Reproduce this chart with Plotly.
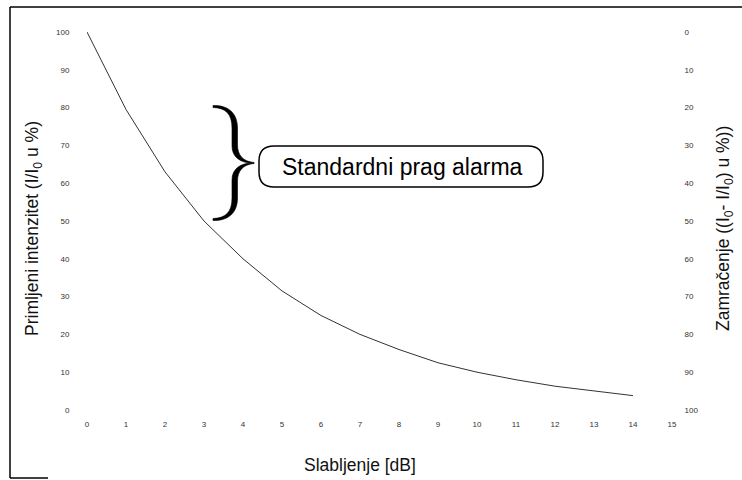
import plotly.graph_objects as go

# ---- data ----
slabljenje_db = [0, 1, 2, 3, 4, 5, 6, 7, 8, 9, 10, 11, 12, 13, 14]
intenzitet_pct = [100, 79.5, 63, 50, 40, 31.5, 25, 20, 16, 12.5, 10, 8, 6.3, 5, 3.8]
zamracenje_pct = [100 - v for v in intenzitet_pct]

x_ticks = list(range(0, 16))
y_ticks = list(range(0, 101, 10))

W, H = 742, 480
L, R, T, B = 87, 70, 32, 70
PW, PH = W - L - R, H - T - B


def px(xp):
    return (xp - L) / PW


def py(yp):
    return (H - B - yp) / PH


def build_path(cmds):
    s = []
    for c in cmds:
        if isinstance(c, str):
            if c:
                s.append(c)
        else:
            s.append(f"{px(c[0]):.5f},{py(c[1]):.5f}")
    return " ".join(s)


fig = go.Figure()
fig.add_trace(go.Scatter(
    x=slabljenje_db, y=intenzitet_pct, mode="lines",
    line=dict(color="#333333", width=1), hoverinfo="skip", showlegend=False,
))
fig.add_trace(go.Scatter(
    x=slabljenje_db, y=zamracenje_pct, mode="lines", yaxis="y2",
    line=dict(color="rgba(0,0,0,0)", width=1), hoverinfo="skip", showlegend=False,
))

tickfont = dict(family="Liberation Sans, Arial, sans-serif", size=8, color="#333333")
titlefont = dict(family="Liberation Sans, Arial, sans-serif", size=17.5, color="#111111")

shapes = []
# brace (filled, thick in the middle strokes)
tip_y = 163


def half(sign):
    def m(p):
        return (p[0], tip_y + sign * (p[1] - tip_y))
    pts = [
        "M", m((213, 105.5)), "C", m((228, 105)), "", m((237.5, 113)), "", m((237.5, 128)),
        "L", m((237.5, 145)), "C", m((237.5, 155)), "", m((243, 161.5)), "", m((254, 162.5)),
        "L", m((254, 163.5)), "C", m((240, 163)), "", m((232, 157)), "", m((232, 146)),
        "L", m((232, 128)), "C", m((232, 114)), "", m((226, 108)), "", m((213, 107.5)), "Z",
    ]
    return pts


brace = half(-1)[:0] + [(p if isinstance(p, str) else p) for p in half(1)]
# top half uses original orientation (sign=1 keeps y as given), bottom half mirrored
top = half(1)
bottom = [(p if isinstance(p, str) else (p[0], 2 * tip_y - p[1])) for p in half(1)]
shapes.append(dict(type="path", xref="paper", yref="paper",
                   path=build_path(top) + " " + build_path(bottom),
                   line=dict(color="black", width=0.6), fillcolor="black"))

# rounded box
bx0, bx1, by0, by1, r = 259, 543, 146, 187, 15
box = [
    "M", (bx0 + r, by0), "L", (bx1 - r, by0),
    "Q", (bx1, by0), "", (bx1, by0 + r),
    "L", (bx1, by1 - r),
    "Q", (bx1, by1), "", (bx1 - r, by1),
    "L", (bx0 + r, by1),
    "Q", (bx0, by1), "", (bx0, by1 - r),
    "L", (bx0, by0 + r),
    "Q", (bx0, by0), "", (bx0 + r, by0), "Z",
]
shapes.append(dict(type="path", xref="paper", yref="paper", path=build_path(box),
                   line=dict(color="black", width=1.5), fillcolor="white"))

# page frame (scan edges)
for (xa, ya, xb, yb) in [(10, 7, 10, 478), (10, 7, 742, 7), (10, 478, 48, 478)]:
    shapes.append(dict(type="line", xref="paper", yref="paper",
                       x0=px(xa), y0=py(ya), x1=px(xb), y1=py(yb),
                       line=dict(color="black", width=1.5)))

annotations = [
    dict(text="Standardni prag alarma", xref="paper", yref="paper",
         x=px((bx0 + bx1) / 2 + 1), y=py((by0 + by1) / 2), showarrow=False,
         xanchor="center", yanchor="middle",
         font=dict(family="Liberation Sans, Arial, sans-serif", size=23, color="black")),
    dict(text="Slabljenje [dB]", xref="paper", yref="paper",
         x=px(360), y=py(465), showarrow=False, xanchor="center", yanchor="middle",
         font=titlefont),
    dict(text="Primljeni intenzitet (I/I<sub>0</sub> u %)", xref="paper", yref="paper",
         x=px(33), y=py(229), showarrow=False, xanchor="center", yanchor="middle",
         textangle=-90, font=titlefont),
    dict(text="Zamračenje ((I<sub>0</sub>- I/I<sub>0</sub>) u %))", xref="paper", yref="paper",
         x=px(724), y=py(229), showarrow=False, xanchor="center", yanchor="middle",
         textangle=-90, font=titlefont),
]

fig.update_layout(
    width=W, height=H,
    margin=dict(l=L, r=R, t=T, b=B),
    paper_bgcolor="white", plot_bgcolor="white",
    showlegend=False,
    xaxis=dict(range=[0, 15], tickvals=x_ticks, ticktext=[str(v) for v in x_ticks],
               showgrid=False, zeroline=False, showline=False,
               ticks="outside", ticklen=6, tickcolor="rgba(0,0,0,0)", tickfont=tickfont),
    yaxis=dict(range=[0, 100], tickvals=y_ticks, ticktext=[str(v) for v in y_ticks],
               showgrid=False, zeroline=False, showline=False,
               ticks="outside", ticklen=15, tickcolor="rgba(0,0,0,0)", tickfont=tickfont),
    yaxis2=dict(range=[100, 0], overlaying="y", side="right",
                tickvals=y_ticks, ticktext=[str(v) for v in y_ticks],
                showgrid=False, zeroline=False, showline=False,
                ticks="outside", ticklen=10, tickcolor="rgba(0,0,0,0)", tickfont=tickfont),
    shapes=shapes,
    annotations=annotations,
)

fig.write_html(
    "out.html",
    config={"displayModeBar": False},
    post_script="document.body.style.margin='0px';document.body.style.overflow='hidden';",
)
